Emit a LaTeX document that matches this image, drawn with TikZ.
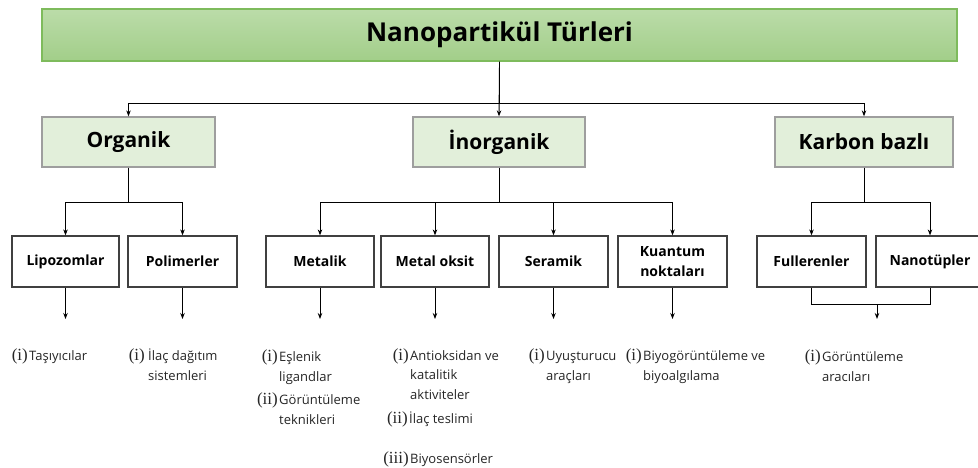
\documentclass[tikz,border=0pt]{standalone}
\usepackage{fontspec}
\setmainfont{Open Sans}
\usetikzlibrary{arrows.meta}
\newfontfamily\serifnum{Liberation Serif}
\definecolor{topfillA}{HTML}{BBDCA9}
\definecolor{topfillB}{HTML}{A2CE89}
\definecolor{topline}{HTML}{7EBB5C}
\definecolor{midfill}{HTML}{E2EFDA}
\definecolor{midline}{HTML}{9E9E9E}
\definecolor{boxline}{HTML}{404040}
\definecolor{txt}{HTML}{262626}
\tikzset{
  topbox/.style={draw=topline, line width=1.4pt, top color=topfillA, bottom color=topfillB,
    minimum width=915pt, minimum height=52pt, inner sep=0pt,
    font=\fontsize{26}{30}\selectfont\bfseries},
  midbox/.style={draw=midline, line width=1.3pt, fill=midfill, minimum height=50pt, inner sep=0pt,
    font=\fontsize{21}{25}\selectfont\bfseries},
  leafbox/.style={draw=boxline, line width=1.2pt, fill=white, minimum width=108pt, minimum height=51pt,
    inner sep=0pt, align=center, font=\fontsize{14}{20}\selectfont\bfseries},
  conn/.style={line width=0.9pt, draw=black},
  arr/.style={conn, -{Stealth[length=6pt,width=4.5pt]}},
  ltxt/.style={anchor=base west, inner sep=0pt, text=txt, font=\fontsize{13}{15}\selectfont},
  lnum/.style={anchor=base east, inner sep=0pt, text=txt, font=\serifnum\fontsize{17}{18}\selectfont},
}
\begin{document}
\begin{tikzpicture}[x=1pt,y=-1pt]
\useasboundingbox (0,0) rectangle (978,468);
\clip (0,0) rectangle (978,468);
\fill[white] (0,0) rectangle (978,468);

% top
\node[topbox] (top) at (499.5,35) {Nanopartikül Türleri};
% level 2
\node[midbox, minimum width=173pt] (org) at (128.5,142) {Organik};
\node[midbox, minimum width=172pt] (inorg) at (499,142) {İnorganik};
\node[midbox, minimum width=178pt] (karb) at (864,142) {Karbon bazlı};

\draw[arr] (top.south) -- (inorg.north);
\draw[arr] (top.south) -- ++(0,42) coordinate (tbar) -| (org.north);
\draw[arr] (tbar) -| (karb.north);

% level 3
\node[leafbox, minimum width=107pt] (lipo) at (65.5,261.5) {Lipozomlar};
\node[leafbox, minimum width=109pt] (poli) at (182.5,261.5) {Polimerler};
\node[leafbox] (metal) at (320,261.5) {Metalik};
\node[leafbox] (oksit) at (435,261.5) {Metal oksit};
\node[leafbox, minimum width=109pt] (seram) at (553.5,261.5) {Seramik};
\node[leafbox, minimum width=109pt] (kuant) at (672.5,261.5) {Kuantum\\noktaları};
\node[leafbox, minimum width=109pt] (full) at (811.5,261.5) {Fullerenler};
\node[leafbox] (nano) at (930,261.5) {Nanotüpler};

\draw[conn] (org.south) -- ++(0,35) coordinate (obar);
\draw[arr] (obar) -| (lipo.north);
\draw[arr] (obar) -| (poli.north);

\draw[conn] (inorg.south) -- ++(0,35) coordinate (ibar);
\draw[arr] (ibar) -| (metal.north);
\draw[arr] (ibar) -| (oksit.north);
\draw[arr] (ibar) -| (seram.north);
\draw[arr] (ibar) -| (kuant.north);

\draw[conn] (karb.south) -- ++(0,35) coordinate (kbar);
\draw[arr] (kbar) -| (full.north);
\draw[arr] (kbar) -| (nano.north);

% arrows down to leaves
\coordinate (e1) at (65.5,319);
\coordinate (e2) at (182.5,319);
\coordinate (e3) at (320,319);
\coordinate (e4) at (435,319);
\coordinate (e5) at (553.5,319);
\coordinate (e6) at (672.5,319);
\coordinate (e7) at (877,319);
\draw[arr] (lipo.south) -- (e1);
\draw[arr] (poli.south) -- (e2);
\draw[arr] (metal.south) -- (e3);
\draw[arr] (oksit.south) -- (e4);
\draw[arr] (seram.south) -- (e5);
\draw[arr] (kuant.south) -- (e6);
\draw[conn] (full.south) -- ++(0,17) coordinate (fb) -| (nano.south);
\coordinate (fm) at (877,304);
\draw[arr] (fm) -- (e7);

% leaf texts
\node[lnum] (n1) at (28,360) {(i)};
\node[ltxt] (t1) at (29,360) {Taşıyıcılar};

\node[lnum] (n2) at (145,360) {(i)};
\node[ltxt] (t2a) at (148,360) {İlaç dağıtım};
\node[ltxt] (t2b) at (148,380) {sistemleri};

\node[lnum] (n3) at (278,361) {(i)};
\node[ltxt] (t3a) at (279,361) {Eşlenik};
\node[ltxt] (t3b) at (279,381) {ligandlar};
\node[lnum] (n3b) at (278,404) {(ii)};
\node[ltxt] (t3c) at (279,404) {Görüntüleme};
\node[ltxt] (t3d) at (279,424) {teknikleri};

\node[lnum] (n4) at (409,360) {(i)};
\node[ltxt] (t4a) at (410,360) {Antioksidan ve};
\node[ltxt] (t4b) at (410,379) {katalitik};
\node[ltxt] (t4c) at (410,399) {aktiviteler};
\node[lnum] (n4b) at (408,423) {(ii)};
\node[ltxt] (t4d) at (409,423) {İlaç teslimi};
\node[lnum] (n4c) at (409,463) {(iii)};
\node[ltxt] (t4e) at (410,463) {Biyosensörler};

\node[lnum] (n5) at (545,360) {(i)};
\node[ltxt] (t5a) at (546,360) {Uyuşturucu};
\node[ltxt] (t5b) at (546,380) {araçları};

\node[lnum] (n6) at (642,360) {(i)};
\node[ltxt] (t6a) at (643,360) {Biyogörüntüleme ve};
\node[ltxt] (t6b) at (643,380) {biyoalgılama};

\node[lnum] (n7) at (821,361) {(i)};
\node[ltxt] (t7a) at (822,361) {Görüntüleme};
\node[ltxt] (t7b) at (822,381) {aracıları};
\end{tikzpicture}
\end{document}
